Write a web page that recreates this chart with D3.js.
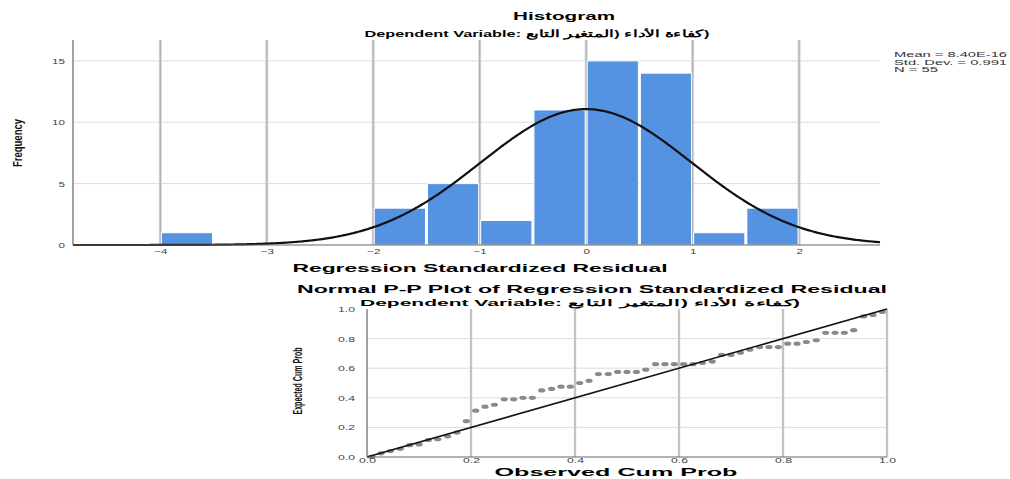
<!DOCTYPE html>
<html><head><meta charset="utf-8">
<script src="https://cdn.jsdelivr.net/npm/d3@7"></script>
<style>
html,body{margin:0;padding:0;background:#fff;}
svg{display:block;font-family:"Liberation Sans",Arial,sans-serif;}
</style></head>
<body>
<svg id="c" width="1010" height="479"></svg>
<script>
// ---------- DATA ----------
const histTitle = "Histogram";
const depVarTitle = "Dependent Variable: كفاءة الأداء (المتغير التابع\u2066)\u2069";
const histXLabel = "Regression Standardized Residual";
const histYLabel = "Frequency";
const binLow  = [-4, -2, -1.5, -1, -0.5, 0, 0.5, 1, 1.5];
const binHigh = [-3.5, -1.5, -1, -0.5, 0, 0.5, 1, 1.5, 2];
const frequencies = [1, 3, 5, 2, 11, 15, 14, 1, 3];
const residMean = 8.40e-16;
const residSD = 0.991;
const residN = 55;
const statsLines = ["Mean = 8.40E-16", "Std. Dev. = 0.991", "N = 55"];
const histXTicks = [-4, -3, -2, -1, 0, 1, 2];
const histYTicks = [0, 5, 10, 15];

const ppTitle = "Normal P-P Plot of Regression Standardized Residual";
const ppXLabel = "Observed Cum Prob";
const ppYLabel = "Expected Cum Prob";
const ppTicks = [0, 0.2, 0.4, 0.6, 0.8, 1.0];
const ppObserved = [0.009,0.027,0.045,0.064,0.082,0.100,0.118,0.136,0.155,0.173,
  0.191,0.209,0.227,0.245,0.264,0.282,0.300,0.318,0.336,0.355,
  0.373,0.391,0.409,0.427,0.445,0.464,0.482,0.500,0.518,0.536,
  0.555,0.573,0.591,0.609,0.627,0.645,0.664,0.682,0.700,0.718,
  0.736,0.755,0.773,0.791,0.809,0.827,0.845,0.864,0.882,0.900,
  0.918,0.936,0.955,0.973,0.991];
const ppExpected = [0.0002,0.025,0.040,0.055,0.080,0.085,0.115,0.120,0.140,0.165,
  0.242,0.313,0.340,0.353,0.390,0.390,0.400,0.400,0.450,0.460,
  0.475,0.475,0.500,0.515,0.560,0.560,0.575,0.575,0.575,0.590,
  0.627,0.627,0.627,0.627,0.627,0.635,0.645,0.690,0.690,0.705,
  0.725,0.743,0.743,0.743,0.766,0.766,0.777,0.789,0.839,0.839,
  0.839,0.857,0.950,0.960,0.980];

// ---------- DRAW ----------
const svg = d3.select("#c");

function txt(g, s, x, y, opt) {
  const t = g.append("text").attr("x", x).attr("y", y).text(s)
    .attr("font-size", opt.size || 11)
    .attr("font-weight", opt.bold ? "bold" : "normal")
    .attr("fill", opt.fill || "#000")
    .attr("text-anchor", opt.anchor || "start");
  if (opt.len) t.attr("textLength", opt.len).attr("lengthAdjust", "spacingAndGlyphs");
  if (opt.rot) t.attr("transform", `rotate(${opt.rot},${x},${y})`);
  return t;
}
function stretch(sel, f) {
  sel.each(function () {
    const w = this.getComputedTextLength();
    d3.select(this).attr("textLength", w * f).attr("lengthAdjust", "spacingAndGlyphs");
  });
}

// ===== Histogram =====
const hx = d3.scaleLinear().domain([-4.82, 2.76]).range([73, 880]);
const hy = d3.scaleLinear().domain([0, 16.7]).range([245, 40]);
const hg = svg.append("g");

hg.selectAll(".hgrid").data(histYTicks.filter(d => d > 0)).enter().append("line")
  .attr("x1", hx.range()[0]).attr("x2", hx.range()[1])
  .attr("y1", d => hy(d)).attr("y2", d => hy(d))
  .attr("stroke", "#dcdcdc").attr("stroke-width", 1);
hg.selectAll(".vgrid1").data(histXTicks).enter().append("line")
  .attr("x1", d => hx(d)).attr("x2", d => hx(d))
  .attr("y1", hy.range()[1]).attr("y2", hy(0))
  .attr("stroke", "#d6d6d6").attr("stroke-width", 3);
hg.selectAll(".vgrid2").data(histXTicks).enter().append("line")
  .attr("x1", d => hx(d)).attr("x2", d => hx(d))
  .attr("y1", hy.range()[1]).attr("y2", hy(0))
  .attr("stroke", "#ababab").attr("stroke-width", 1);

hg.selectAll(".bar").data(frequencies).enter().append("rect")
  .attr("x", (d, i) => hx(binLow[i]) + 1)
  .attr("width", (d, i) => hx(binHigh[i]) - hx(binLow[i]) - 2)
  .attr("y", d => hy(d))
  .attr("height", d => hy(0) - hy(d))
  .attr("fill", "#5593e2")
  .attr("stroke", "#fff").attr("stroke-width", 1);

const binW = binHigh[0] - binLow[0];
const curveXs = d3.range(500).map(k => hx.domain()[0] + k * (hx.domain()[1] - hx.domain()[0]) / 499);
const pdf = x => residN * binW / (residSD * Math.sqrt(2 * Math.PI)) * Math.exp(-0.5 * Math.pow((x - residMean) / residSD, 2));
hg.append("path")
  .attr("d", d3.line().x(d => hx(d)).y(d => hy(pdf(d))).curve(d3.curveBasis)(curveXs))
  .attr("fill", "none").attr("stroke", "#111").attr("stroke-width", 2.2);

const hxAxis = hg.append("g").attr("transform", `translate(0,${hy(0)})`)
  .call(d3.axisBottom(hx).tickValues(histXTicks).tickSize(0).tickPadding(4).tickFormat(d3.format("d")));
const hyAxis = hg.append("g").attr("transform", `translate(${hx.range()[0]},0)`)
  .call(d3.axisLeft(hy).tickValues(histYTicks).tickSize(0).tickPadding(8).tickFormat(d3.format("d")));
[hxAxis, hyAxis].forEach(a => {
  a.select(".domain").remove();
  a.selectAll("text").attr("font-size", 7.5).attr("fill", "#444").attr("font-family", "Liberation Sans, Arial, sans-serif");
  stretch(a.selectAll("text"), 1.55);
});
hyAxis.selectAll("text").attr("dy", "0.35em");
hg.append("line").attr("x1", hx.range()[0]).attr("x2", hx.range()[0]).attr("y1", hy.range()[1]).attr("y2", hy(0))
  .attr("stroke", "#666").attr("stroke-width", 1.2);
hg.append("line").attr("x1", hx.range()[0]).attr("x2", hx.range()[1]).attr("y1", hy(0)).attr("y2", hy(0))
  .attr("stroke", "#666").attr("stroke-width", 1.2);

txt(svg, histTitle, 564, 20, {size: 10, bold: true, anchor: "middle", len: 102});
txt(svg, depVarTitle, 537, 37, {size: 9.5, bold: true, anchor: "middle", len: 345});
txt(svg, histXLabel, 480, 272, {size: 10.5, bold: true, anchor: "middle", len: 375});
txt(svg, histYLabel, 22, 143, {size: 13.5, bold: true, anchor: "middle", rot: -90, len: 48, fill: "#111"});
statsLines.forEach((s, i) => {
  txt(svg, s, 894, 57 + i * 7.5, {size: 7, fill: "#333", len: i < 2 ? 113 : 44});
});

// ===== P-P plot =====
const px = d3.scaleLinear().domain([0, 1]).range([367, 887]);
const py = d3.scaleLinear().domain([0, 1]).range([457, 309]);
const pg = svg.append("g");

pg.selectAll(".phg").data(ppTicks.filter(d => d > 0 && d < 1)).enter().append("line")
  .attr("x1", px(0)).attr("x2", px(1)).attr("y1", d => py(d)).attr("y2", d => py(d))
  .attr("stroke", "#dcdcdc").attr("stroke-width", 1);
pg.selectAll(".pvg1").data(ppTicks.filter(d => d > 0)).enter().append("line")
  .attr("x1", d => px(d)).attr("x2", d => px(d)).attr("y1", py(1)).attr("y2", py(0))
  .attr("stroke", "#d6d6d6").attr("stroke-width", 2.5);
pg.selectAll(".pvg2").data(ppTicks.filter(d => d > 0)).enter().append("line")
  .attr("x1", d => px(d)).attr("x2", d => px(d)).attr("y1", py(1)).attr("y2", py(0))
  .attr("stroke", "#b0b0b0").attr("stroke-width", 1);

pg.selectAll(".pt").data(ppObserved).enter().append("ellipse")
  .attr("cx", (d) => px(d)).attr("cy", (d, i) => py(ppExpected[i]))
  .attr("rx", 3.6).attr("ry", 2.1).attr("fill", "#8a8a8a");

pg.append("line").attr("x1", px(0)).attr("y1", py(0)).attr("x2", px(1)).attr("y2", py(1))
  .attr("stroke", "#111").attr("stroke-width", 1.6);

const pxAxis = pg.append("g").attr("transform", `translate(0,${py(0)})`)
  .call(d3.axisBottom(px).tickValues(ppTicks).tickSize(0).tickPadding(1).tickFormat(d3.format(".1f")));
const pyAxis = pg.append("g").attr("transform", `translate(${px(0)},0)`)
  .call(d3.axisLeft(py).tickValues(ppTicks).tickSize(0).tickPadding(12).tickFormat(d3.format(".1f")));
[pxAxis, pyAxis].forEach(a => {
  a.select(".domain").remove();
  a.selectAll("text").attr("font-size", 7).attr("fill", "#444").attr("font-family", "Liberation Sans, Arial, sans-serif");
  stretch(a.selectAll("text"), 1.75);
});
pyAxis.selectAll("text").attr("dy", "0.35em");
pg.append("line").attr("x1", px(0)).attr("x2", px(0)).attr("y1", py(1)).attr("y2", py(0))
  .attr("stroke", "#666").attr("stroke-width", 1.2);
pg.append("line").attr("x1", px(0)).attr("x2", px(1)).attr("y1", py(0)).attr("y2", py(0))
  .attr("stroke", "#666").attr("stroke-width", 1.2);

txt(svg, ppTitle, 592, 293, {size: 10, bold: true, anchor: "middle", len: 590});
txt(svg, depVarTitle, 580, 306, {size: 9, bold: true, anchor: "middle", len: 440});
txt(svg, ppXLabel, 616, 476, {size: 10, bold: true, anchor: "middle", len: 243});
txt(svg, ppYLabel, 302, 381, {size: 12, bold: true, anchor: "middle", rot: -90, len: 67, fill: "#111"});
</script>
</body></html>
